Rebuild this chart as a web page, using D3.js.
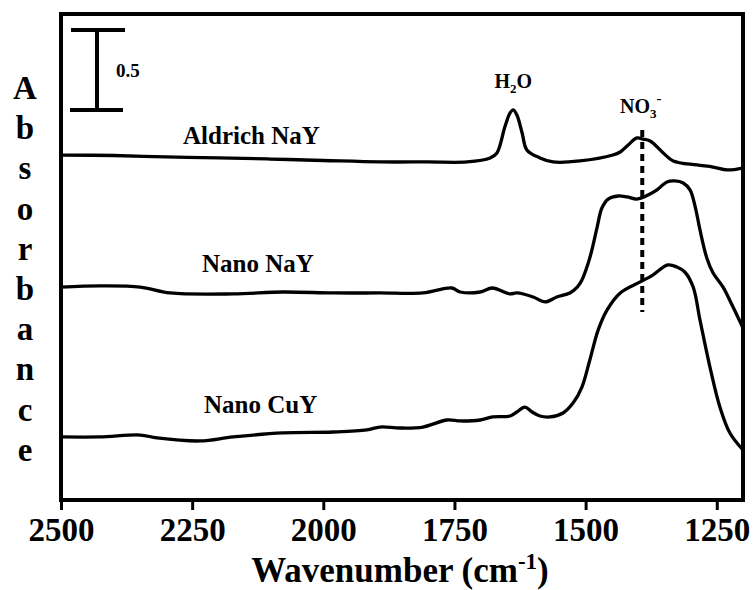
<!DOCTYPE html>
<html>
<head>
<meta charset="utf-8">
<script src="https://cdn.jsdelivr.net/npm/d3@7"></script>
<style>
  html, body { margin: 0; padding: 0; background: #fff; }
  svg { display: block; }
  text { font-family: "Liberation Serif", "Times New Roman", serif; font-weight: bold; fill: #000; }
</style>
</head>
<body>
<svg id="chart" width="755" height="590"></svg>
<script>
// FTIR spectra (stacked, absorbance offset per sample)
const seriesNames = ["Aldrich NaY", "Nano NaY", "Nano CuY"];

const aldrichWn  = [2500, 2400, 2300, 2200, 2100, 2000, 1892, 1800, 1726, 1682, 1669, 1654, 1644, 1638, 1631, 1621, 1612, 1587, 1562, 1511, 1448, 1434, 1419, 1402, 1391, 1377, 1352, 1333, 1288, 1257, 1230, 1200];
const aldrichAbs = [2.156, 2.153, 2.144, 2.138, 2.131, 2.122, 2.113, 2.113, 2.113, 2.138, 2.169, 2.331, 2.419, 2.438, 2.406, 2.294, 2.188, 2.138, 2.113, 2.119, 2.156, 2.175, 2.219, 2.263, 2.256, 2.244, 2.169, 2.119, 2.094, 2.081, 2.063, 2.075];

const nanoNaYWn  = [2500, 2426, 2349, 2292, 2172, 2077, 1981, 1892, 1810, 1755, 1739, 1701, 1678, 1644, 1631, 1600, 1577, 1555, 1530, 1516, 1507, 1495, 1488, 1478, 1469, 1457, 1438, 1421, 1402, 1381, 1364, 1345, 1330, 1314, 1301, 1291, 1282, 1269, 1257, 1238, 1219, 1200];
const nanoNaYAbs = [1.331, 1.338, 1.331, 1.294, 1.288, 1.300, 1.294, 1.294, 1.294, 1.325, 1.300, 1.300, 1.325, 1.288, 1.294, 1.269, 1.238, 1.269, 1.294, 1.331, 1.375, 1.481, 1.563, 1.706, 1.825, 1.881, 1.900, 1.894, 1.881, 1.906, 1.938, 1.988, 1.994, 1.981, 1.938, 1.831, 1.688, 1.513, 1.419, 1.331, 1.206, 1.075];

const nanoCuYWn  = [2500, 2426, 2349, 2317, 2235, 2172, 2077, 1981, 1917, 1892, 1854, 1810, 1764, 1739, 1701, 1677, 1644, 1631, 1616, 1602, 1587, 1568, 1543, 1524, 1507, 1492, 1476, 1459, 1434, 1396, 1372, 1343, 1326, 1311, 1295, 1282, 1263, 1244, 1225, 1200];
const nanoCuYAbs = [0.394, 0.394, 0.406, 0.388, 0.369, 0.394, 0.419, 0.425, 0.438, 0.456, 0.450, 0.456, 0.500, 0.494, 0.500, 0.519, 0.525, 0.550, 0.581, 0.550, 0.525, 0.519, 0.544, 0.606, 0.706, 0.875, 1.063, 1.188, 1.294, 1.363, 1.406, 1.469, 1.456, 1.425, 1.331, 1.125, 0.831, 0.581, 0.419, 0.313];

const xTicks = [2500, 2250, 2000, 1750, 1500, 1250];
const xDomain = [2500, 1200];
const yDomain = [0, 3.0375];

// Scale bar (absorbance units) and nitrate band marker
const scaleBarTop = 2.9375;
const scaleBarSize = 0.5;
const nitrateWn = 1392;
const nitrateRange = [2.3125, 1.175];
const waterWn = 1638;

const yLabelLetters = "Absorbance".split("");

const svg = d3.select("#chart");
const plotLeft = 61, plotRight = 743, plotTop = 14, plotBottom = 500;

const x = d3.scaleLinear().domain(xDomain).range([plotLeft, plotRight]);
const y = d3.scaleLinear().domain(yDomain).range([plotBottom, plotTop]);

const line = d3.line()
  .x(d => x(d[0]))
  .y(d => y(d[1]))
  .curve(d3.curveCatmullRom.alpha(0.5));

const spectra = [
  { name: seriesNames[0], pts: d3.zip(aldrichWn, aldrichAbs) },
  { name: seriesNames[1], pts: d3.zip(nanoNaYWn, nanoNaYAbs) },
  { name: seriesNames[2], pts: d3.zip(nanoCuYWn, nanoCuYAbs) }
];

svg.append("defs").append("clipPath").attr("id", "plot-clip")
  .append("rect").attr("x", plotLeft).attr("y", plotTop)
  .attr("width", plotRight - plotLeft).attr("height", plotBottom - plotTop);

svg.append("g").attr("clip-path", "url(#plot-clip)")
  .selectAll("path.spectrum")
  .data(spectra)
  .join("path")
  .attr("class", "spectrum")
  .attr("d", d => line(d.pts))
  .attr("fill", "none")
  .attr("stroke", "#000")
  .attr("stroke-width", 3.3)
  .attr("stroke-linejoin", "round")
  .attr("stroke-linecap", "round");

// nitrate marker
svg.append("line")
  .attr("x1", x(nitrateWn)).attr("x2", x(nitrateWn))
  .attr("y1", y(nitrateRange[0])).attr("y2", y(nitrateRange[1]))
  .attr("stroke", "#000").attr("stroke-width", 4)
  .attr("stroke-dasharray", "7,5");

// frame
svg.append("rect")
  .attr("x", plotLeft).attr("y", plotTop)
  .attr("width", plotRight - plotLeft).attr("height", plotBottom - plotTop)
  .attr("fill", "none").attr("stroke", "#000").attr("stroke-width", 4);

// bottom axis
const xAxis = d3.axisBottom(x).tickValues(xTicks).tickSize(10).tickPadding(6).tickFormat(d3.format("d"));
const gx = svg.append("g").attr("transform", `translate(0,${plotBottom})`).call(xAxis);
gx.select(".domain").remove();
gx.selectAll(".tick line").attr("stroke", "#000").attr("stroke-width", 3);
gx.selectAll(".tick text")
  .attr("font-size", 33).attr("font-family", "'Liberation Serif', 'Times New Roman', serif")
  .attr("font-weight", "bold").attr("fill", "#000")
  .attr("dy", null).attr("y", 41);

// x-axis title
const xt = svg.append("text").attr("x", 400).attr("y", 582).attr("text-anchor", "middle").attr("font-size", 35);
xt.append("tspan").text("Wavenumber (cm");
xt.append("tspan").attr("font-size", 23).attr("dy", -13).text("-1");
xt.append("tspan").attr("dy", 13).text(")");

// y-axis title, stacked letters
svg.append("g").selectAll("text")
  .data(yLabelLetters)
  .join("text")
  .attr("x", 25)
  .attr("y", (d, i) => 99 + i * 40.2)
  .attr("text-anchor", "middle")
  .attr("font-size", 33)
  .text(d => d);

// scale bar
const sbX = 97;
const sb = svg.append("g").attr("stroke", "#000").attr("stroke-width", 4);
sb.append("line").attr("x1", sbX).attr("x2", sbX).attr("y1", y(scaleBarTop)).attr("y2", y(scaleBarTop - scaleBarSize));
sb.append("line").attr("x1", 71).attr("x2", 125).attr("y1", y(scaleBarTop)).attr("y2", y(scaleBarTop));
sb.append("line").attr("x1", 70).attr("x2", 123).attr("y1", y(scaleBarTop - scaleBarSize)).attr("y2", y(scaleBarTop - scaleBarSize));
svg.append("text").attr("x", 116).attr("y", 77).attr("font-size", 19).text(String(scaleBarSize));

// sample labels
const labelPos = [[183, 144], [202, 272], [204, 413]];
svg.append("g").selectAll("text")
  .data(seriesNames)
  .join("text")
  .attr("x", (d, i) => labelPos[i][0])
  .attr("y", (d, i) => labelPos[i][1])
  .attr("font-size", 25)
  .text(d => d);

// band labels
const h2o = svg.append("text").attr("x", x(waterWn)).attr("y", 88).attr("text-anchor", "middle").attr("font-size", 20);
h2o.append("tspan").text("H");
h2o.append("tspan").attr("font-size", 13).attr("dy", 5).text("2");
h2o.append("tspan").attr("dy", -5).text("O");

const no3 = svg.append("text").attr("x", 620).attr("y", 113).attr("font-size", 20);
no3.append("tspan").text("NO");
no3.append("tspan").attr("font-size", 13).attr("dy", 5).text("3");
no3.append("tspan").attr("font-size", 15).attr("dy", -15).text("-");
</script>
</body>
</html>
